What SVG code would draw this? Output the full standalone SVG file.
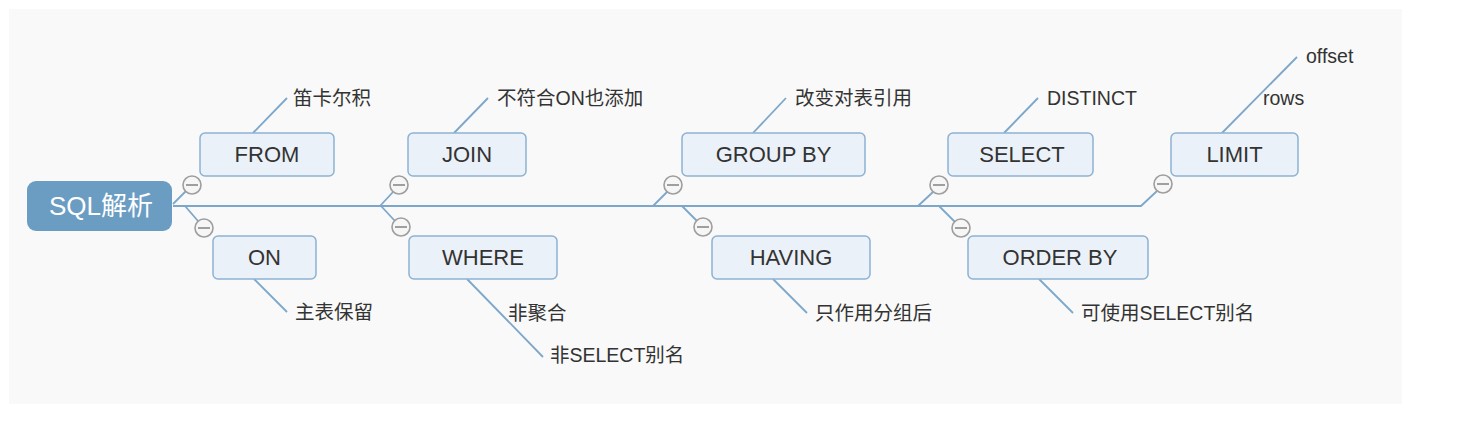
<svg xmlns="http://www.w3.org/2000/svg" width="1463" height="430" viewBox="0 0 1463 430">
<style>
text{font-family:"Liberation Sans","Noto Sans CJK SC",sans-serif;fill:#333}
.box{fill:#ebf1f8;stroke:#8db2d3;stroke-width:1.5}
.nt{font-size:22px;text-anchor:middle}
.lt{font-size:19.5px}
.ln{stroke:#7ca7cb;stroke-width:1.8;fill:none}
.tg circle{fill:#f6f6f6;stroke:#9e9e9e;stroke-width:1.6}
.tg line{stroke:#8a8a8a;stroke-width:1.6}
</style>
<rect x="0" y="0" width="1463" height="430" fill="#ffffff"/>
<rect x="9" y="9" width="1393" height="395" fill="#f8f9f8"/>
<g id="connectors" class="ln">
<polyline points="173,206 1141,206 1157,191"/>
<line x1="173" y1="204" x2="186" y2="191"/>
<line x1="185" y1="206" x2="198" y2="221"/>
<line x1="380" y1="206" x2="393" y2="192"/>
<line x1="381" y1="206" x2="395" y2="221"/>
<line x1="653" y1="206" x2="667" y2="192"/>
<line x1="682" y1="206" x2="697" y2="221"/>
<line x1="918" y1="206" x2="933" y2="192"/>
<line x1="939" y1="206" x2="955" y2="222"/>
<line x1="253" y1="133" x2="287" y2="98"/>
<line x1="254" y1="279" x2="287" y2="312"/>
<line x1="454" y1="133" x2="488" y2="98"/>
<line x1="467" y1="279" x2="543" y2="357"/>
<line x1="753" y1="133" x2="786" y2="98"/>
<line x1="773" y1="279" x2="807" y2="313"/>
<line x1="1004" y1="133" x2="1038" y2="98"/>
<line x1="1039" y1="279" x2="1073" y2="313"/>
<line x1="1221" y1="134" x2="1297" y2="57"/>
</g>
<g id="root">
<rect x="27" y="181" width="145" height="50" rx="9" fill="#6b9dc3"/>
<text x="101" y="215" font-size="26" text-anchor="middle" style="fill:#ffffff">SQL解析</text>
</g>
<g id="from">
<rect class="box" x="200" y="133" width="134" height="43" rx="5"/>
<text class="nt" x="267" y="161.5">FROM</text>
<text class="lt" x="293" y="105">笛卡尔积</text>
</g>
<g id="on">
<rect class="box" x="213" y="236" width="103" height="43" rx="5"/>
<text class="nt" x="264.5" y="264.5">ON</text>
<text class="lt" x="295" y="319">主表保留</text>
</g>
<g id="join">
<rect class="box" x="408" y="133" width="118" height="43" rx="5"/>
<text class="nt" x="467" y="161.5">JOIN</text>
<text class="lt" x="497" y="105">不符合ON也添加</text>
</g>
<g id="where">
<rect class="box" x="409" y="236" width="148" height="43" rx="5"/>
<text class="nt" x="483" y="264.5">WHERE</text>
<text class="lt" x="508" y="320">非聚合</text>
<text class="lt" x="550" y="362">非SELECT别名</text>
</g>
<g id="groupby">
<rect class="box" x="682" y="133" width="183" height="43" rx="5"/>
<text class="nt" x="773.5" y="161.5">GROUP BY</text>
<text class="lt" x="795" y="105">改变对表引用</text>
</g>
<g id="having">
<rect class="box" x="712" y="236" width="158" height="43" rx="5"/>
<text class="nt" x="791" y="264.5">HAVING</text>
<text class="lt" x="815" y="320">只作用分组后</text>
</g>
<g id="select">
<rect class="box" x="948" y="133" width="145" height="43" rx="5"/>
<text class="nt" x="1022" y="161.5">SELECT</text>
<text class="lt" x="1047" y="105">DISTINCT</text>
</g>
<g id="orderby">
<rect class="box" x="968" y="236" width="180" height="43" rx="5"/>
<text class="nt" x="1060" y="264.5">ORDER BY</text>
<text class="lt" x="1081" y="320">可使用SELECT别名</text>
</g>
<g id="limit">
<rect class="box" x="1171" y="133" width="127" height="43" rx="5"/>
<text class="nt" x="1234.5" y="161.5">LIMIT</text>
<text class="lt" x="1263" y="105">rows</text>
<text class="lt" x="1306" y="63">offset</text>
</g>
<g id="toggles" class="tg">
<circle cx="192" cy="185" r="9"/><line x1="186" y1="185" x2="198" y2="185"/>
<circle cx="204" cy="228" r="9"/><line x1="198" y1="228" x2="210" y2="228"/>
<circle cx="399" cy="185" r="9"/><line x1="393" y1="185" x2="405" y2="185"/>
<circle cx="401" cy="227" r="9"/><line x1="395" y1="227" x2="407" y2="227"/>
<circle cx="673" cy="185" r="9"/><line x1="667" y1="185" x2="679" y2="185"/>
<circle cx="703" cy="227" r="9"/><line x1="697" y1="227" x2="709" y2="227"/>
<circle cx="939" cy="185" r="9"/><line x1="933" y1="185" x2="945" y2="185"/>
<circle cx="961" cy="228" r="9"/><line x1="955" y1="228" x2="967" y2="228"/>
<circle cx="1163" cy="184" r="9"/><line x1="1157" y1="184" x2="1169" y2="184"/>
</g>
</svg>
